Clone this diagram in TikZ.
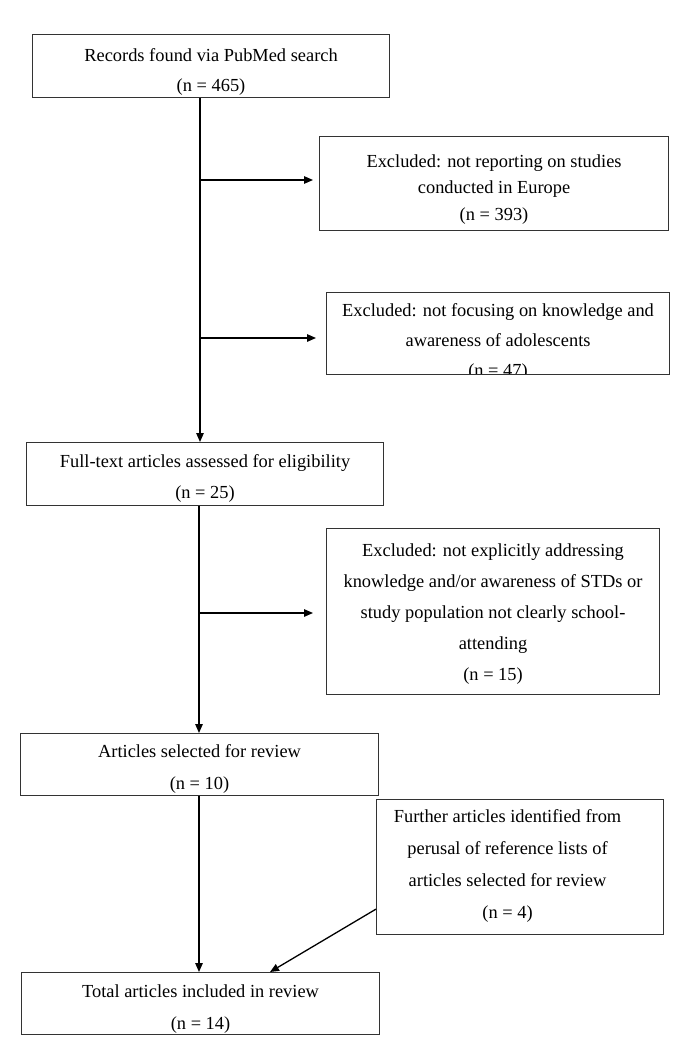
\documentclass[tikz,border=0pt]{standalone}
\usepackage{fontspec}
\setmainfont{Liberation Serif}
\usetikzlibrary{arrows.meta}
\newcommand\tdn[1]{\rule{0pt}{#1pt}}
\begin{document}
\begin{tikzpicture}[x=1pt,y=-1pt,
  box/.style={draw=black!80, line width=1.1pt, anchor=north west, inner sep=0pt,
    align=center, font=\fontsize{18.4}{31}\selectfont},
  flow/.style={draw=black, line width=1.3pt, -{Triangle[length=9pt,width=7.5pt]}},
  lbl/.style={draw=none, anchor=center, align=center, inner sep=0pt},
]
\useasboundingbox (0,0) rectangle (685,1057);

% boxes
\node[box, minimum width=357pt, minimum height=63pt, font=\fontsize{18.4}{30}\selectfont]
  (b1) at (32,34) {\tdn{24}Records found via PubMed search\\(n = 465)};
\node[box, minimum width=349pt, minimum height=94pt, font=\fontsize{18.4}{26.5}\selectfont]
  (b2) at (319,136) {\tdn{24}Excluded: not reporting on studies\\conducted in Europe\\(n = 393)};
\node[box, minimum width=343pt, minimum height=82pt,
  path picture={\node[lbl, font=\fontsize{18.4}{30}\selectfont] (t3)
    at ([yshift=-8pt]path picture bounding box.center)
    {Excluded: not focusing on knowledge and\\awareness of adolescents\\(n = 47)};}]
  (b3) at (326,292) {};
\node[box, minimum width=357pt, minimum height=63pt]
  (b4) at (26,442) {\tdn{22}Full-text articles assessed for eligibility\\(n = 25)};
\node[box, minimum width=333pt, minimum height=166pt]
  (b5) at (326,528) {\tdn{18}Excluded: not explicitly addressing\\knowledge and/or awareness of STDs or\\study population not clearly school-\\attending\\(n = 15)};
\node[box, minimum width=358pt, minimum height=62pt, font=\fontsize{18.4}{32}\selectfont]
  (b6) at (20,733) {\tdn{22.5}Articles selected for review\\(n = 10)};
\node[box, minimum width=287pt, minimum height=135pt,
  path picture={\node[lbl, font=\fontsize{18.4}{32}\selectfont] (t7)
    at ([xshift=-12.5pt,yshift=1.5pt]path picture bounding box.center)
    {Further articles identified from\\perusal of reference lists of\\articles selected for review\\(n = 4)};}]
  (b7) at (376,799) {};
\node[box, minimum width=358pt, minimum height=62pt, font=\fontsize{18.4}{32}\selectfont]
  (b8) at (21,972) {\tdn{24}Total articles included in review\\(n = 14)};

% connectors
\coordinate (xa) at (200,0);
\coordinate (xb) at (199,0);
\coordinate (xc) at (270,0);
\coordinate (j1) at (200,180);
\coordinate (j2) at (200,338);
\coordinate (j3) at (199,613);

\draw[flow] (b1.south -| xa) -- (b4.north -| xa);
\draw[flow, shorten >=6pt] (j1) -- (b2.west |- j1);
\draw[flow, shorten >=10pt] (j2) -- (b3.west |- j2);
\draw[flow] (b4.south -| xb) -- (b6.north -| xb);
\draw[flow, shorten >=13pt] (j3) -- (b5.west |- j3);
\draw[flow] (b6.south -| xb) -- (b8.north -| xb);
\draw[flow] ([yshift=26pt]b7.south west) -- (b8.north -| xc);
\end{tikzpicture}
\end{document}
